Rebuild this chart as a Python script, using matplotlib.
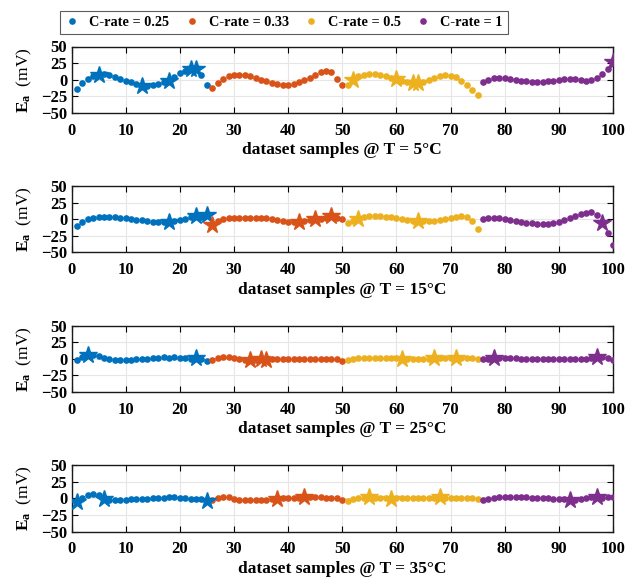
import matplotlib
matplotlib.use("Agg")
import matplotlib.pyplot as plt
import numpy as np

plt.rcParams['font.family'] = ['Liberation Serif', 'DejaVu Serif']
plt.rcParams['font.weight'] = 'bold'
plt.rcParams['mathtext.fontset'] = 'custom'
plt.rcParams['mathtext.rm'] = 'Liberation Serif:bold'
plt.rcParams['mathtext.it'] = 'Liberation Serif:bold'

labels = ['C-rate = 0.25', 'C-rate = 0.33', 'C-rate = 0.5', 'C-rate = 1']
colors = ['#0072BD', '#D95319', '#EDB120', '#7E2F8E']
temps = ['5', '15', '25', '35']

# Panel values (samples 1..100, 25 per C-rate)
T5_c025 = [-14, -4.5, 1.5, 5.5, 7.5, 8, 6.5, 4, 1.5, -1.5, -3.5, -6.5, -9.5, -9.5, -8.5,
           -6.5, -4, -1.5, 3.5, 9.5, 13.5, 15.5, 15.5, 6.5, -7.5]
T5_c033 = [-13, -5, 1.5, 5, 6.5, 7.5, 6.5, 5, 2.5, 0, -2.5, -5, -7, -8, -8,
           -6.5, -4, -0.5, 3, 7.5, 11.5, 13, 11, 1.5, -8.5]
T5_c05 = [-8.5, -1, 5, 7.5, 9, 8.5, 7.5, 5.5, 3, 0.5, -1.5, -4, -5.5, -5.5, -3.5,
          -0.5, 2.5, 5, 6.5, 6, 3.5, -2, -8.5, -15.5, -23.5]
T5_c1 = [-3.5, -0.5, 2, 2.5, 2.5, 1.5, 0, -1.5, -2.5, -3.5, -3.5, -3.5, -2.5, -1.5, 0,
         1, 1.5, 1, -0.5, -1.5, -0.5, 3, 8.5, 15.5, 26.5]

T15_c025 = [-10, -4, 0, 2.5, 3.5, 4, 4, 3, 2.5, 1.5, 0.5, -0.5, -1.5, -2.5, -4.5,
            -4, -3.5, -4, -2, -0.5, 1, 3, 5.5, 3.5, 6]
T15_c033 = [-9, -2, 0.5, 2, 2.5, 2.5, 2.5, 2, 2, 2, 1.5, 1, -0.5, -2, -3.5,
            -4, -4, -3, -1.5, 0, 1, 2.5, 4.5, 2.5, 0]
T15_c05 = [-5.5, -2, 1, 3.5, 5, 5, 4.5, 3.5, 3, 2, 0.5, -0.5, -2, -3, -3,
           -2.5, -2, -1, 0, 1.5, 3.5, 5, 4, -2, -14]
T15_c1 = [0.5, 1.5, 2, 1.5, 0.5, -0.5, -2, -3.5, -5, -6, -7, -7, -6.5, -5, -3.5,
          -1, 2, 5, 8, 10, 10.5, 6.5, -5, -20, -39]

T25_c025 = [-2, 2, 5.5, 5, 4, 1.5, -0.5, -1.5, -1.5, -1.5, -1.5, -1, -0.5, 0, 0.5,
            1, 2, 1.5, 2, 1.5, 1, 0, 1.5, -1, -3.5]
T25_c033 = [-1.5, 1, 2.5, 2, 0.5, -0.5, -1.5, -2, -2, -1, -1.5, -0.5, -0.5, -0.5, 0,
            0, 0, -0.5, 0, 0, 0, -0.5, -0.5, -1, -3.5]
T25_c05 = [-2, 0, 0.5, 0.5, 0.5, 0.5, 0.5, 0.5, 0.5, 0.5, 0, 0, 0, 0, 0,
           0, 1, 0.5, 0.5, 0.5, 1.5, 0.5, 0.5, 0.5, -1]
T25_c1 = [-1, 0, 1, 1, 1, 1, 1, 0, -0.5, -1, -1, -1, -1, -1, -1,
          -1, -0.5, -0.5, -0.5, 0, 1.5, 3, 2, 0.5, -2]

T35_c025 = [-5.5, 1, 4.5, 6, 5, -0.5, -2, -3, -2.5, -2, -1, -1, -0.5, -0.5, 0.5,
            1, 1, 2, 1.5, 1, 0.5, -0.5, -1.5, -1.5, -4.5]
T35_c033 = [-2, 0.5, 2, 1.5, -0.5, -2, -2.5, -2.5, -2.5, -2.5, -2, -1.5, -1, 0, 0.5,
            0.5, 1, 2.5, 2, 2, 2, 1, 0, 0, -3]
T35_c05 = [-3.5, -1, 0.5, 1, 2, 0.5, 0.5, 0.5, -1, 0, 0, 0, 0, 0, 0,
           0, 1, 1.5, 0.5, 0.5, 0.5, 0.5, 0.5, 0.5, -1]
T35_c1 = [-2.5, -1, 0.5, 1.5, 2.5, 2.5, 2.5, 2.5, 2.5, 1, 1, 1, 1, -1, -1,
          -1, -2.5, -2, -0.5, 1, 1.5, 2.5, 1, 2, 2]

# Sample indices marked with stars in each panel
stars_T5 = [5, 13, 18, 22, 23, 52, 60, 63, 64, 100]
stars_T15 = [18, 23, 25, 26, 42, 45, 48, 53, 64, 98]
stars_T25 = [3, 23, 33, 35, 36, 61, 67, 71, 78, 97]
stars_T35 = [1, 6, 25, 38, 43, 55, 59, 68, 92, 97]

panels = [
    [T5_c025, T5_c033, T5_c05, T5_c1],
    [T15_c025, T15_c033, T15_c05, T15_c1],
    [T25_c025, T25_c033, T25_c05, T25_c1],
    [T35_c025, T35_c033, T35_c05, T35_c1],
]
stars = [stars_T5, stars_T15, stars_T25, stars_T35]

W, H = 639, 579
fig = plt.figure(figsize=(W / 100, H / 100), dpi=100)

left_px, right_px = 71.5, 613
bottoms_px = [113, 252.5, 392, 531.5]
h_px = 66.5

handles = []
for p, (series_list, st, T) in enumerate(zip(panels, stars, temps)):
    ax = fig.add_axes([left_px / W, 1 - bottoms_px[p] / H,
                       (right_px - left_px) / W, h_px / H])
    for k, vals in enumerate(series_list):
        x = np.arange(1, 26) + 25 * k
        v = np.array(vals)
        hnd, = ax.plot(x, v, 'o', color=colors[k], ms=4.8, mec='none',
                       label=labels[k], zorder=3)
        if p == 0:
            handles.append(hnd)
        sel = [i for i, xi in enumerate(x) if xi in st]
        ax.plot(x[sel], v[sel], '*', color=colors[k], ms=13, mec=colors[k],
                zorder=4)
    ax.set_xlim(0, 100)
    ax.set_ylim(-50, 50)
    ax.set_xticks(np.arange(0, 101, 10))
    ax.set_yticks([-50, -25, 0, 25, 50])
    ax.grid(True, color='#e6e6e6', lw=0.8, zorder=0)
    ax.set_axisbelow(True)
    ax.tick_params(direction='in', top=True, right=True, labelsize=12,
                   length=4, width=0.8)
    ax.tick_params(axis='x', pad=7)
    ax.tick_params(axis='y', pad=3)
    for lab in ax.get_xticklabels() + ax.get_yticklabels():
        lab.set_fontweight('bold')
    for s in ax.spines.values():
        s.set_linewidth(1.0)
        s.set_color('#1a1a1a')
    ax.set_xlabel('dataset samples @ T = ' + T + '°C', fontsize=12.5,
                  fontweight='bold', labelpad=2.5)
    ax.set_ylabel('$\\mathrm{E_a}$  (mV)', fontsize=12.5, labelpad=5)

leg = fig.legend(handles=handles, labels=labels, loc='center',
                 bbox_to_anchor=(284 / W, 1 - 22.5 / H), ncol=4,
                 fontsize=10.3, frameon=True, fancybox=False,
                 edgecolor='#333333', handlelength=1.0, handletextpad=0.7,
                 columnspacing=1.05, markerscale=1.0, borderpad=0.35,
                 borderaxespad=0)
leg.get_frame().set_linewidth(0.8)
for t in leg.get_texts():
    t.set_fontweight('bold')

fig.savefig('out.png', dpi=100)
